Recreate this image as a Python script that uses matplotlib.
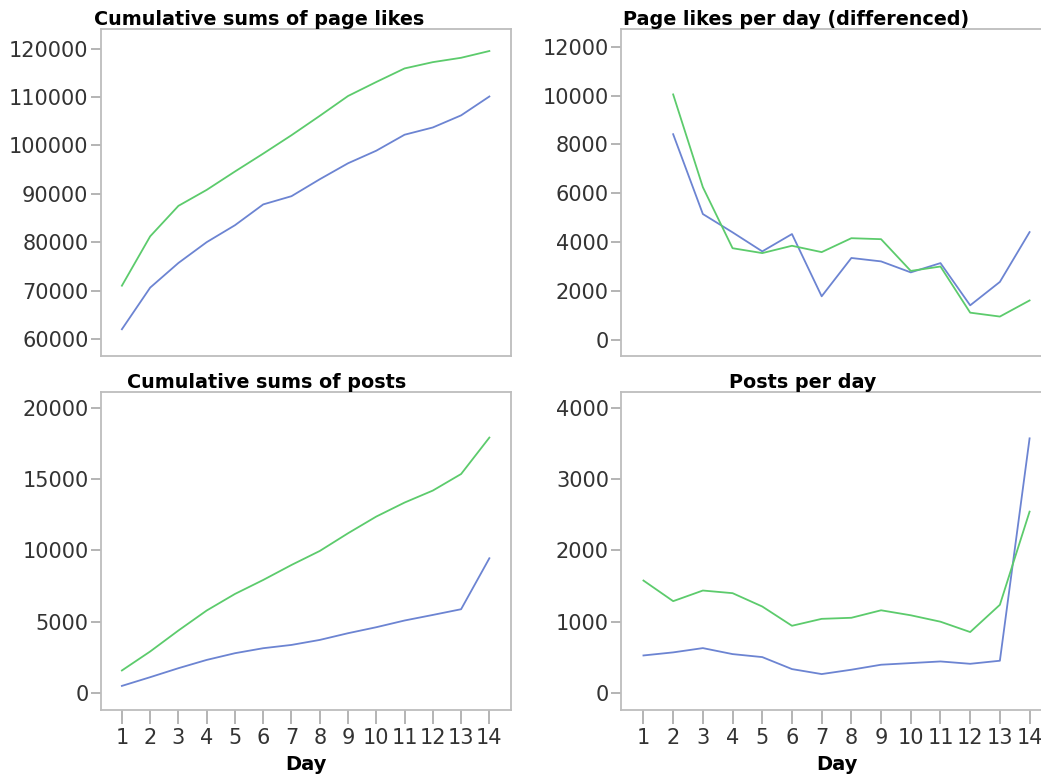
import matplotlib
matplotlib.use("Agg")
import matplotlib.pyplot as plt

matplotlib.rcParams.update({'font.family': 'DejaVu Sans'})

days = list(range(1, 15))
diff_days = list(range(2, 15))

# cumulative page likes
likes_cum_green = [71000, 81200, 87500, 90800, 94600, 98300, 102100, 106100, 110200,
                   113100, 115900, 117200, 118100, 119500]
likes_cum_blue = [62000, 70600, 75700, 80000, 83500, 87800, 89500, 93000, 96300,
                  98900, 102200, 103700, 106200, 110100]

# page likes per day (differenced)
likes_day_green = [10050, 6250, 3750, 3550, 3850, 3590, 4160, 4120, 2820, 3000,
                   1110, 950, 1610]
likes_day_blue = [8420, 5150, 4400, 3620, 4330, 1780, 3350, 3210, 2760, 3140,
                  1410, 2370, 4410]

# cumulative posts
posts_cum_green = [1590, 2920, 4390, 5790, 6950, 7930, 8980, 9960, 11200, 12370,
                   13350, 14190, 15350, 17900]
posts_cum_blue = [510, 1120, 1750, 2330, 2800, 3150, 3380, 3730, 4200, 4620,
                  5090, 5480, 5880, 9450]

# posts per day
posts_day_green = [1577, 1288, 1437, 1400, 1213, 943, 1040, 1055, 1160, 1090,
                   1000, 855, 1237, 2543]
posts_day_blue = [527, 570, 630, 546, 504, 336, 266, 327, 397, 420, 443, 410,
                  453, 3570]

green = '#5ccb6c'
blue = '#6c84d2'
frame = '#bdbdbd'

fig = plt.figure(figsize=(10.41, 7.77), dpi=100)

# axes boxes in figure fractions: left, bottom, width, height
boxes = [
    [0.097, 0.542, 0.394, 0.421],
    [0.597, 0.542, 0.414, 0.421],
    [0.097, 0.086, 0.394, 0.410],
    [0.597, 0.086, 0.414, 0.410],
]

panels = [
    ("Cumulative sums of page likes", days, likes_cum_green, likes_cum_blue,
     (56500, 124100), [60000, 70000, 80000, 90000, 100000, 110000, 120000], 0.385),
    ("Page likes per day (differenced)", diff_days, likes_day_green, likes_day_blue,
     (-660, 12740), [0, 2000, 4000, 6000, 8000, 10000, 12000], 0.405),
    ("Cumulative sums of posts", days, posts_cum_green, posts_cum_blue,
     (-1190, 21120), [0, 5000, 10000, 15000, 20000], 0.405),
    ("Posts per day", days, posts_day_green, posts_day_blue,
     (-240, 4225), [0, 1000, 2000, 3000, 4000], 0.42),
]

for i, (title, xs, g, b, ylim, yticks, tx) in enumerate(panels):
    ax = fig.add_axes(boxes[i])
    ax.plot(xs, b, color=blue, lw=1.3)
    ax.plot(xs, g, color=green, lw=1.3)
    ax.set_xlim(0.26, 14.77)
    ax.set_ylim(*ylim)
    ax.set_yticks(yticks)
    ax.set_yticklabels([str(v) for v in yticks])
    for s in ax.spines.values():
        s.set_color(frame)
        s.set_linewidth(1.3)
    ax.tick_params(axis='y', length=7, width=1.2, color='#a8a8a8',
                   labelsize=15, labelcolor='#333333', pad=2)
    if i < 2:
        ax.set_xticks([])
    else:
        ax.set_xticks(days)
        ax.tick_params(axis='x', length=10, width=1.2, color='#a8a8a8',
                       labelsize=15, labelcolor='#333333', pad=3)
        ax.set_xlabel('Day', fontsize=14, fontweight='bold', labelpad=5)
    ax.set_title(title, fontsize=13.8, fontweight='bold', x=tx, pad=1)

plt.savefig('out.png', dpi=100)
